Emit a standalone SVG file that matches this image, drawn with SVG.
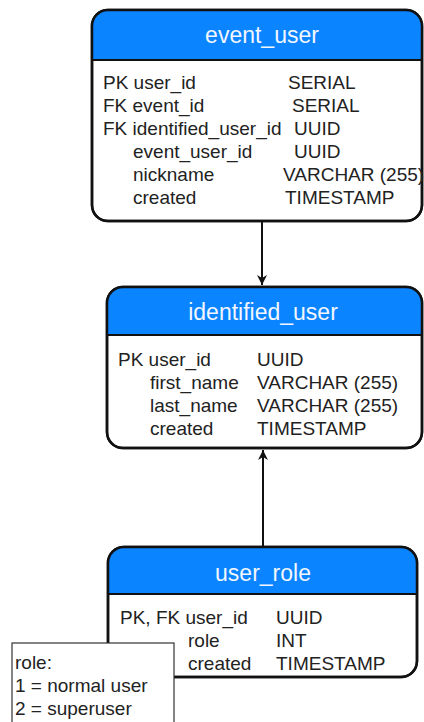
<svg xmlns="http://www.w3.org/2000/svg" width="424" height="722" viewBox="0 0 424 722">
<style>
.box{fill:#fff;stroke:#111;stroke-width:2.5}
.hdr{fill:#0a84ff}
.sep{stroke:#111;stroke-width:2}
.t{font-family:"Liberation Sans",Arial,sans-serif;font-size:19px;fill:#222}
.ti{font-family:"Liberation Sans",Arial,sans-serif;font-size:23px;fill:#f2f6ff;text-anchor:middle}
.con{stroke:#111;stroke-width:2;fill:none}
.note{fill:#fff;stroke:#333;stroke-width:1.2}
</style>
<defs>
<marker id="ah" viewBox="0 0 10 10" refX="10" refY="5" markerWidth="10" markerHeight="10" markerUnits="userSpaceOnUse" orient="auto">
<path d="M0,0 L10,5 L0,10 L3,5 Z" fill="#111"/>
</marker>
<clipPath id="c1"><rect x="92" y="10" width="330" height="211" rx="16"/></clipPath>
<clipPath id="c2"><rect x="107" y="287" width="315" height="161" rx="16"/></clipPath>
<clipPath id="c3"><rect x="108" y="547" width="309" height="130" rx="16"/></clipPath>
</defs>
<g id="connectors">
<line class="con" x1="262" y1="221" x2="262" y2="285" marker-end="url(#ah)"/>
<line class="con" x1="263" y1="547" x2="263" y2="450" marker-end="url(#ah)"/>
</g>
<g id="event_user">
<rect class="box" x="92" y="10" width="330" height="211" rx="16"/>
<rect class="hdr" x="92" y="10" width="330" height="50" clip-path="url(#c1)"/>
<rect x="92" y="10" width="330" height="211" rx="16" fill="none" stroke="#111" stroke-width="2.5"/>
<line class="sep" x1="92" y1="60" x2="422" y2="60"/>
<text class="ti" x="262" y="43">event_user</text>
<text class="t" x="103" y="89">PK user_id</text><text class="t" x="288" y="89">SERIAL</text>
<text class="t" x="103" y="112">FK event_id</text><text class="t" x="292" y="112">SERIAL</text>
<text class="t" x="103" y="135">FK identified_user_id</text><text class="t" x="294" y="135">UUID</text>
<text class="t" x="133" y="158">event_user_id</text><text class="t" x="294" y="158">UUID</text>
<text class="t" x="133" y="181">nickname</text><text class="t" x="283" y="181">VARCHAR (255)</text>
<text class="t" x="133" y="204">created</text><text class="t" x="285" y="204">TIMESTAMP</text>
</g>
<g id="identified_user">
<rect class="box" x="107" y="287" width="315" height="161" rx="16"/>
<rect class="hdr" x="107" y="287" width="315" height="48" clip-path="url(#c2)"/>
<rect x="107" y="287" width="315" height="161" rx="16" fill="none" stroke="#111" stroke-width="2.5"/>
<line class="sep" x1="107" y1="335" x2="422" y2="335"/>
<text class="ti" x="263" y="320">identified_user</text>
<text class="t" x="118" y="366">PK user_id</text><text class="t" x="257" y="366">UUID</text>
<text class="t" x="150" y="389">first_name</text><text class="t" x="257" y="389">VARCHAR (255)</text>
<text class="t" x="150" y="412">last_name</text><text class="t" x="257" y="412">VARCHAR (255)</text>
<text class="t" x="150" y="435">created</text><text class="t" x="257" y="435">TIMESTAMP</text>
</g>
<g id="user_role">
<rect class="box" x="108" y="547" width="309" height="130" rx="16"/>
<rect class="hdr" x="108" y="547" width="309" height="47" clip-path="url(#c3)"/>
<rect x="108" y="547" width="309" height="130" rx="16" fill="none" stroke="#111" stroke-width="2.5"/>
<line class="sep" x1="108" y1="594" x2="417" y2="594"/>
<text class="ti" x="263" y="581">user_role</text>
<text class="t" x="120" y="624">PK, FK user_id</text><text class="t" x="276" y="624">UUID</text>
<text class="t" x="188" y="647">role</text><text class="t" x="276" y="647">INT</text>
<text class="t" x="188" y="670">created</text><text class="t" x="276" y="670">TIMESTAMP</text>
</g>
<g id="note">
<rect class="note" x="12" y="643" width="162" height="85"/>
<text class="t" x="15" y="669">role:</text>
<text class="t" x="15" y="692">1 = normal user</text>
<text class="t" x="15" y="715">2 = superuser</text>
</g>
</svg>
